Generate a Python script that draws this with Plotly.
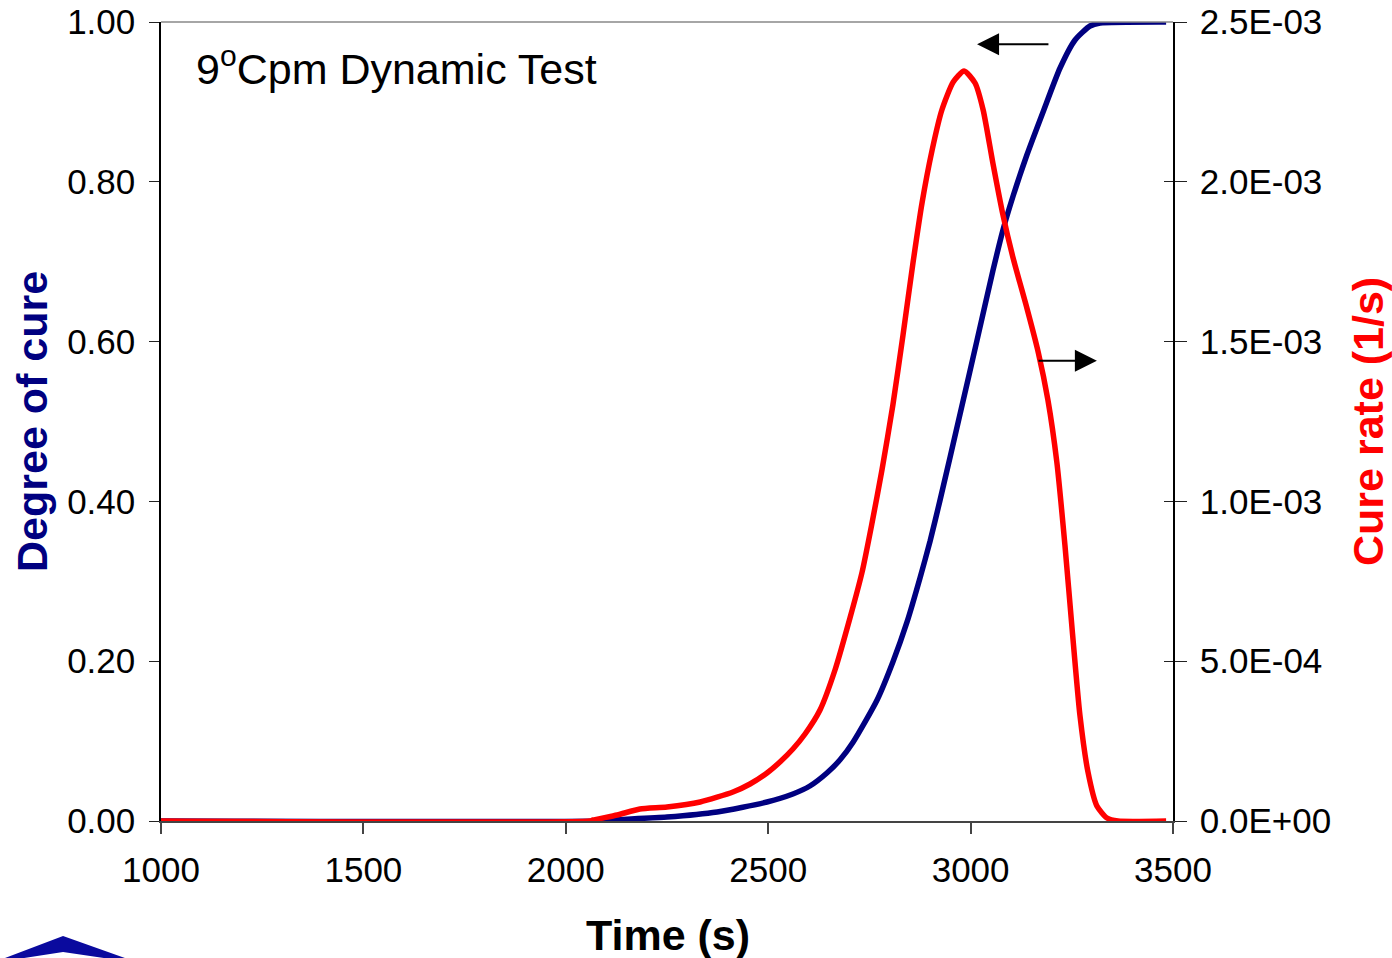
import plotly.graph_objects as go

# Degree of cure vs time (left axis)
time_cure = [1000, 2080, 2109, 2250, 2374, 2497, 2561, 2603, 2645, 2677, 2710, 2769, 2808,
             2843, 2875, 2900, 2924, 2974, 3016, 3055, 3080, 3105, 3139, 3179, 3221,
             3258, 3295, 3320, 3483]
degree_of_cure = [0, 0, 0.0013, 0.005, 0.0113, 0.0238, 0.0338, 0.0438, 0.0601, 0.0763, 0.0989, 0.1514, 0.199,
                  0.2491, 0.3041, 0.3504, 0.4005, 0.5094, 0.602, 0.6884, 0.7397, 0.7822, 0.8335, 0.8874, 0.9424,
                  0.9775, 0.995, 0.9987, 1.0]

# Cure rate vs time (right axis, 1/s)
time_rate = [1000, 2060, 2067, 2127, 2183, 2250, 2332, 2413, 2455, 2497, 2529, 2561,
             2591, 2628, 2665, 2702, 2732, 2756, 2781, 2808, 2833, 2858, 2880, 2905, 2929,
             2957, 2984, 3011, 3031, 3055, 3080, 3105, 3139, 3167, 3191, 3213, 3233,
             3251, 3270, 3290, 3312, 3337, 3364, 3483]
cure_rate = [0, 0, 0.0031e-3, 0.0188e-3, 0.0375e-3, 0.0438e-3, 0.0595e-3, 0.0907e-3, 0.1158e-3,
             0.1502e-3, 0.1846e-3, 0.2253e-3, 0.2722e-3, 0.3473e-3, 0.4725e-3, 0.6352e-3, 0.7791e-3,
             0.9293e-3, 1.0982e-3, 1.3016e-3, 1.5206e-3, 1.7491e-3, 1.9337e-3, 2.0995e-3,
             2.2247e-3, 2.3123e-3, 2.3467e-3, 2.3091e-3, 2.2247e-3, 2.0588e-3, 1.8961e-3,
             1.7616e-3, 1.6052e-3, 1.4674e-3, 1.3173e-3, 1.1233e-3, 0.8636e-3, 0.5976e-3,
             0.3317e-3, 0.1533e-3, 0.0469e-3, 0.0094e-3, 0, 0]

x_ticks = [1000, 1500, 2000, 2500, 3000, 3500]
left_ticks = [0.0, 0.2, 0.4, 0.6, 0.8, 1.0]
right_ticks = [0.0, 5.0e-4, 1.0e-3, 1.5e-3, 2.0e-3, 2.5e-3]
right_ticklabels = [f"{v:.1E}" for v in right_ticks]

FONT = "Liberation Sans, Arial, sans-serif"
NAVY = "#000080"
RED = "#FF0000"

W, H = 1392, 958
L, R, T, B = 161, 1173, 22, 821


def px_to_paper(px, py):
    return (px - L) / (R - L), (B - py) / (B - T)


fig = go.Figure()
fig.add_trace(go.Scatter(x=time_rate, y=cure_rate, mode="lines", yaxis="y2",
                         line=dict(color=RED, width=5.5, shape="spline", smoothing=0.6),
                         showlegend=False))
fig.add_trace(go.Scatter(x=time_cure, y=degree_of_cure, mode="lines",
                         line=dict(color=NAVY, width=5.5, shape="spline", smoothing=0.6),
                         showlegend=False))
# invisible trace to activate the inner tick marks of the right axis
fig.add_trace(go.Scatter(x=[None], y=[None], yaxis="y3", showlegend=False))

tickfont = dict(family=FONT, size=35, color="black")

fig.update_layout(
    width=W, height=H,
    margin=dict(l=L, r=W - R, t=T, b=H - B, autoexpand=False),
    paper_bgcolor="white", plot_bgcolor="white",
    font=dict(family=FONT),
    xaxis=dict(range=[1000, 3500], tickvals=x_ticks, ticks="outside", ticklen=11,
               tickcolor="#444", tickwidth=1.5, showline=True, linecolor="#444", linewidth=2,
               showgrid=False, zeroline=False, tickfont=tickfont, ticklabelstandoff=6,
               automargin=False),
    yaxis=dict(range=[0, 1], tickvals=left_ticks, tickformat=".2f", ticks="outside",
               ticklen=10, tickcolor="#222", tickwidth=1, showline=True, linecolor="black",
               linewidth=1.5, showgrid=False, zeroline=False, tickfont=tickfont,
               ticklabelstandoff=7, automargin=False),
    yaxis2=dict(range=[0, 2.5e-3], tickvals=right_ticks, ticktext=right_ticklabels,
                overlaying="y", side="right", ticks="outside", ticklen=12, tickcolor="#222",
                tickwidth=1, showline=True, linecolor="black", linewidth=1.5,
                showgrid=False, zeroline=False, tickfont=tickfont, ticklabelstandoff=6,
                automargin=False),
    yaxis3=dict(range=[0, 2.5e-3], tickvals=right_ticks, overlaying="y", side="right",
                ticks="inside", ticklen=9, tickcolor="#222", tickwidth=1,
                showticklabels=False, showline=False, showgrid=False, zeroline=False,
                automargin=False),
)

# top frame line
fig.add_shape(type="line", xref="paper", yref="paper", x0=0, x1=1, y0=1, y1=1,
              line=dict(color="#888", width=1.5))

# logo chevron at the lower-left corner
pts = [(5, 958), (63, 936), (125, 958), (104, 958), (63, 952), (24, 958)]
path = "M " + " L ".join(f"{px_to_paper(a, b)[0]:.4f},{px_to_paper(a, b)[1]:.4f}" for a, b in pts) + " Z"
fig.add_shape(type="path", xref="paper", yref="paper", path=path,
              fillcolor="#0a0a9e", line=dict(width=0))

# chart caption
cx, cy = px_to_paper(194, 66)
fig.add_annotation(xref="paper", yref="paper", x=cx, y=cy, xanchor="left", yanchor="middle",
                   text="9<sup>o</sup>Cpm Dynamic Test", showarrow=False,
                   font=dict(family=FONT, size=43, color="black"))

# axis titles
tx, ty = px_to_paper(668, 935)
fig.add_annotation(xref="paper", yref="paper", x=tx, y=ty, text="<b>Time (s)</b>",
                   showarrow=False, xanchor="center", yanchor="middle",
                   font=dict(family=FONT, size=43, color="black"))
lx, ly = px_to_paper(32, 422)
fig.add_annotation(xref="paper", yref="paper", x=lx, y=ly, text="<b>Degree of cure</b>",
                   showarrow=False, textangle=-90, xanchor="center", yanchor="middle",
                   font=dict(family=FONT, size=43, color=NAVY))
rx, ry = px_to_paper(1368, 422)
fig.add_annotation(xref="paper", yref="paper", x=rx, y=ry, text="<b>Cure rate (1/s)</b>",
                   showarrow=False, textangle=-90, xanchor="center", yanchor="middle",
                   font=dict(family=FONT, size=43, color=RED))

# arrows pointing each curve to its axis
fig.add_annotation(x=3016, y=0.972, ax=3196, ay=0.972, xref="x", yref="y", axref="x", ayref="y",
                   text="", showarrow=True, arrowhead=2, arrowsize=2.2, arrowwidth=2,
                   arrowcolor="black")
fig.add_annotation(x=3312, y=0.576, ax=3164, ay=0.576, xref="x", yref="y", axref="x", ayref="y",
                   text="", showarrow=True, arrowhead=2, arrowsize=2.2, arrowwidth=2,
                   arrowcolor="black")

fig.write_html("out.html")
